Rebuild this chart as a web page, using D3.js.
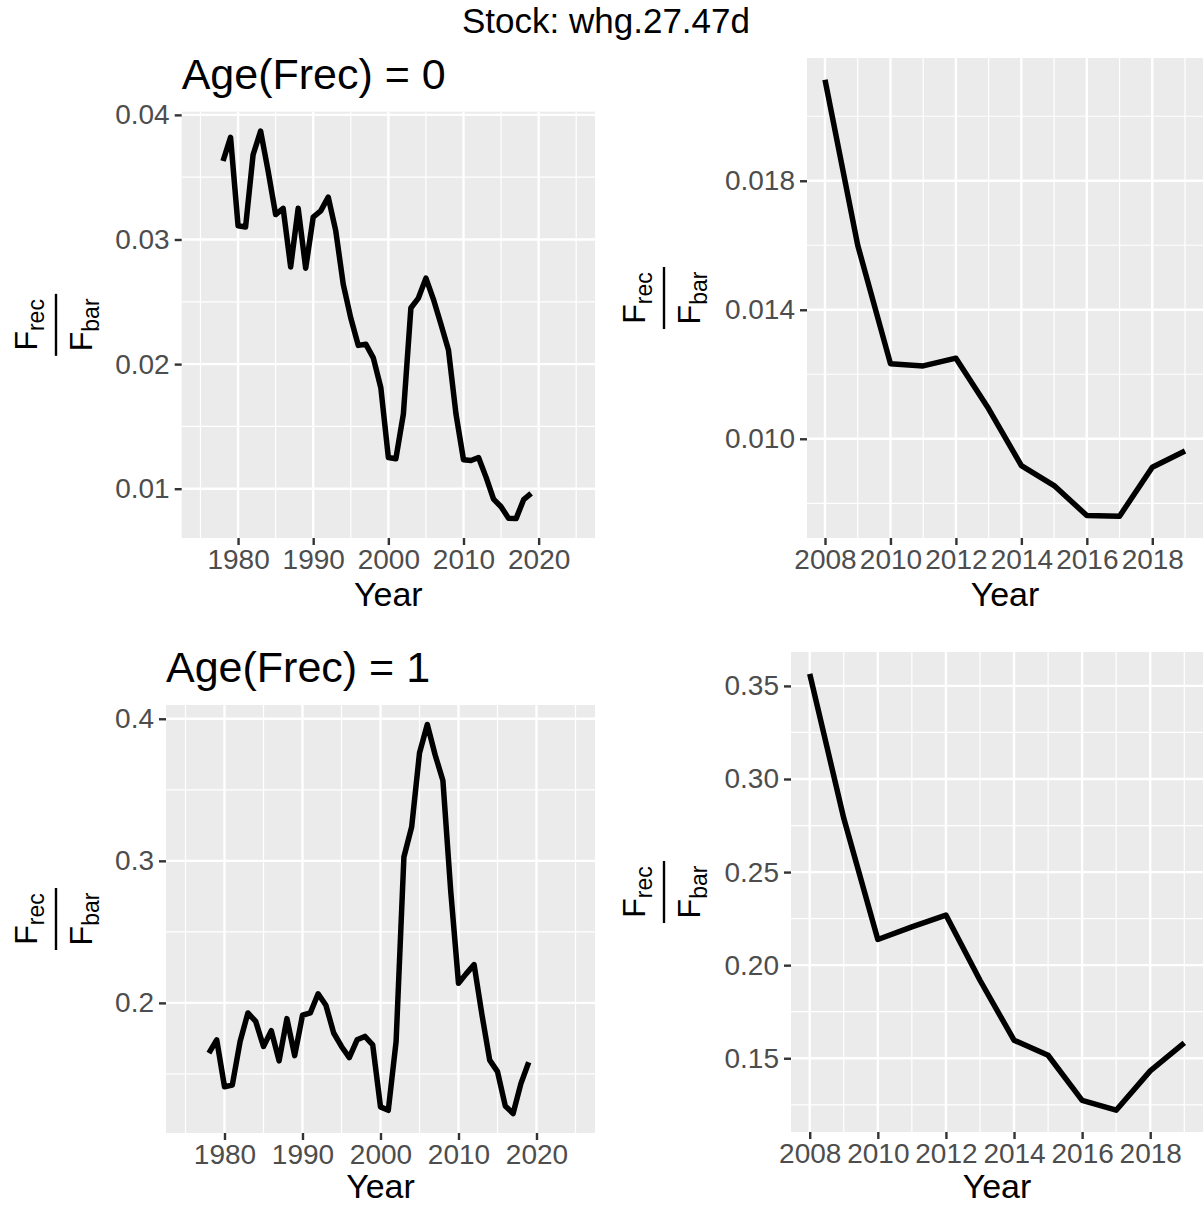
<!DOCTYPE html>
<html><head><meta charset="utf-8">
<script src="https://cdn.jsdelivr.net/npm/d3@7"></script>
<style>
body{margin:0;background:#fff}
svg{display:block}
text{font-family:"Liberation Sans",Arial,Helvetica,sans-serif}
</style>
</head><body>
<svg id="chart" width="1204" height="1206"></svg>
<script>
// ---- data ----
const years = [1978,1979,1980,1981,1982,1983,1984,1985,1986,1987,1988,1989,1990,1991,1992,1993,1994,1995,1996,1997,1998,1999,2000,2001,2002,2003,2004,2005,2006,2007,2008,2009,2010,2011,2012,2013,2014,2015,2016,2017,2018,2019];
const frecAge0 = [0.0363,0.0382,0.0311,0.0310,0.0368,0.0387,0.0355,0.0320,0.0325,0.0278,0.0325,0.0277,0.0318,0.0323,0.0334,0.0307,0.0264,0.0237,0.0215,0.0216,0.0205,0.0181,0.0125,0.0124,0.0160,0.0245,0.0253,0.0269,0.0252,0.0232,0.02113,0.0160,0.01233,0.01226,0.01250,0.01093,0.00917,0.00855,0.00762,0.00760,0.00912,0.00962];
const frecAge1 = [0.1646,0.1740,0.1410,0.1421,0.1728,0.1929,0.1870,0.1693,0.1804,0.1592,0.1889,0.1629,0.1913,0.1929,0.2064,0.1983,0.1788,0.1693,0.1615,0.1740,0.1764,0.1705,0.1268,0.1244,0.1728,0.3027,0.3240,0.3759,0.3960,0.3747,0.3565,0.2789,0.2138,0.2206,0.2269,0.1919,0.1597,0.1516,0.1274,0.1221,0.1432,0.1582];
const recentYears = [2008,2009,2010,2011,2012,2013,2014,2015,2016,2017,2018,2019];
const fullXLimits = [1975, 2025];
const fullXTicks = [1980,1990,2000,2010,2020];
const fullXMinor = [1975,1985,1995,2005,2015,2025];
const recentXTicks = [2008,2010,2012,2014,2016,2018];
const recentXMinor = [2009,2011,2013,2015,2017,2019];
const yTicksAge0Full = [0.01,0.02,0.03,0.04];
const yLabelsAge0Full = ["0.01","0.02","0.03","0.04"];
const yMinorAge0Full = [0.005,0.015,0.025,0.035,0.045];
const yTicksAge0Recent = [0.010,0.014,0.018];
const yLabelsAge0Recent = ["0.010","0.014","0.018"];
const yMinorAge0Recent = [0.008,0.012,0.016,0.020];
const yTicksAge1Full = [0.2,0.3,0.4];
const yLabelsAge1Full = ["0.2","0.3","0.4"];
const yMinorAge1Full = [0.15,0.25,0.35,0.45];
const yTicksAge1Recent = [0.15,0.20,0.25,0.30,0.35];
const yLabelsAge1Recent = ["0.15","0.20","0.25","0.30","0.35"];
const yMinorAge1Recent = [0.125,0.175,0.225,0.275,0.325,0.375];
const superTitle = "Stock: whg.27.47d";
const panelTitles = ["Age(Frec) = 0", "Age(Frec) = 1"];

// ---- layout ----
const svg = d3.select("#chart");
const expand = (lo, hi) => { const d = (hi - lo) * 0.05; return [lo - d, hi + d]; };

function series(vals, yrs) {
  return years.map((y, i) => ({year: y, v: vals[i]})).filter(d => yrs.includes(d.year));
}

const panels = [
  {box:[181.7,111.7,595,538], data: series(frecAge0, years), xlim: fullXLimits,
   xt: fullXTicks, xm: fullXMinor, yt: yTicksAge0Full, yl: yLabelsAge0Full, ym: yMinorAge0Full,
   title: panelTitles[0], ylabX: 56, xtitleY: 606},
  {box:[807,58,1203,538], data: series(frecAge0, recentYears), xlim: null,
   xt: recentXTicks, xm: recentXMinor, yt: yTicksAge0Recent, yl: yLabelsAge0Recent, ym: yMinorAge0Recent,
   title: null, ylabX: 664, xtitleY: 606},
  {box:[166,705,595,1133], data: series(frecAge1, years), xlim: fullXLimits,
   xt: fullXTicks, xm: fullXMinor, yt: yTicksAge1Full, yl: yLabelsAge1Full, ym: yMinorAge1Full,
   title: panelTitles[1], ylabX: 56, xtitleY: 1198},
  {box:[791,652,1203,1132], data: series(frecAge1, recentYears), xlim: null,
   xt: recentXTicks, xm: recentXMinor, yt: yTicksAge1Recent, yl: yLabelsAge1Recent, ym: yMinorAge1Recent,
   title: null, ylabX: 664, xtitleY: 1198}
];

svg.append("text").attr("x", 606).attr("y", 33).attr("text-anchor", "middle")
  .attr("font-size", 35).attr("fill", "#000").text(superTitle);

panels.forEach(p => {
  const [x0, y0, x1, y1] = p.box;
  const xd = p.xlim ? expand(p.xlim[0], p.xlim[1]) : expand(d3.min(p.data, d => d.year), d3.max(p.data, d => d.year));
  const yd = expand(d3.min(p.data, d => d.v), d3.max(p.data, d => d.v));
  const x = d3.scaleLinear().domain(xd).range([x0, x1]);
  const y = d3.scaleLinear().domain(yd).range([y1, y0]);
  const g = svg.append("g");
  g.append("rect").attr("x", x0).attr("y", y0).attr("width", x1 - x0).attr("height", y1 - y0).attr("fill", "#EBEBEB");
  const inX = v => v >= xd[0] && v <= xd[1];
  const inY = v => v >= yd[0] && v <= yd[1];
  // minor grid
  g.selectAll(null).data(p.xm.filter(inX)).enter().append("line")
    .attr("x1", d => x(d)).attr("x2", d => x(d)).attr("y1", y0).attr("y2", y1)
    .attr("stroke", "#fff").attr("stroke-width", 1.2);
  g.selectAll(null).data(p.ym.filter(inY)).enter().append("line")
    .attr("y1", d => y(d)).attr("y2", d => y(d)).attr("x1", x0).attr("x2", x1)
    .attr("stroke", "#fff").attr("stroke-width", 1.2);
  // major grid
  g.selectAll(null).data(p.xt).enter().append("line")
    .attr("x1", d => x(d)).attr("x2", d => x(d)).attr("y1", y0).attr("y2", y1)
    .attr("stroke", "#fff").attr("stroke-width", 2.4);
  g.selectAll(null).data(p.yt).enter().append("line")
    .attr("y1", d => y(d)).attr("y2", d => y(d)).attr("x1", x0).attr("x2", x1)
    .attr("stroke", "#fff").attr("stroke-width", 2.4);
  // line
  g.append("path").datum(p.data)
    .attr("d", d3.line().x(d => x(d.year)).y(d => y(d.v)))
    .attr("fill", "none").attr("stroke", "#000").attr("stroke-width", 5.5)
    .attr("stroke-linejoin", "round");
  // axes
  const ax = d3.axisBottom(x).tickValues(p.xt).tickFormat(d3.format("d")).tickSize(7).tickPadding(4);
  const axG = svg.append("g").attr("transform", `translate(0,${y1})`).call(ax);
  const labMap = new Map(p.yt.map((v, i) => [v, p.yl[i]]));
  const ay = d3.axisLeft(y).tickValues(p.yt).tickFormat(d => labMap.get(d)).tickSize(7).tickPadding(5);
  const ayG = svg.append("g").attr("transform", `translate(${x0},0)`).call(ay);
  [axG, ayG].forEach(a => {
    a.select(".domain").remove();
    a.selectAll(".tick line").attr("stroke", "#333").attr("stroke-width", 2.4);
    a.selectAll(".tick text").attr("fill", "#4D4D4D").attr("font-size", 28)
      .style("font-family", '"Liberation Sans",Arial,sans-serif');
  });
  // x title
  svg.append("text").attr("x", (x0 + x1) / 2).attr("y", p.xtitleY).attr("text-anchor", "middle")
    .attr("font-size", 34).attr("fill", "#000").text("Year");
  // y title: fraction F_rec / F_bar
  const cy = (y0 + y1) / 2;
  const yg = svg.append("g").attr("transform", `translate(${p.ylabX},${cy}) rotate(-90)`);
  yg.append("line").attr("x1", -31).attr("x2", 31).attr("y1", 0).attr("y2", 0)
    .attr("stroke", "#000").attr("stroke-width", 2.4);
  const num = yg.append("text").attr("x", 0).attr("y", -19).attr("text-anchor", "middle")
    .attr("font-size", 32).attr("fill", "#000");
  num.append("tspan").text("F");
  num.append("tspan").attr("dy", 7).attr("font-size", 23).text("rec");
  const den = yg.append("text").attr("x", 0).attr("y", 36).attr("text-anchor", "middle")
    .attr("font-size", 32).attr("fill", "#000");
  den.append("tspan").text("F");
  den.append("tspan").attr("dy", 7).attr("font-size", 23).text("bar");
  // panel title
  if (p.title) {
    svg.append("text").attr("x", x0).attr("y", y0 - 23).attr("font-size", 43)
      .attr("fill", "#000").text(p.title);
  }
});
</script>
</body></html>
